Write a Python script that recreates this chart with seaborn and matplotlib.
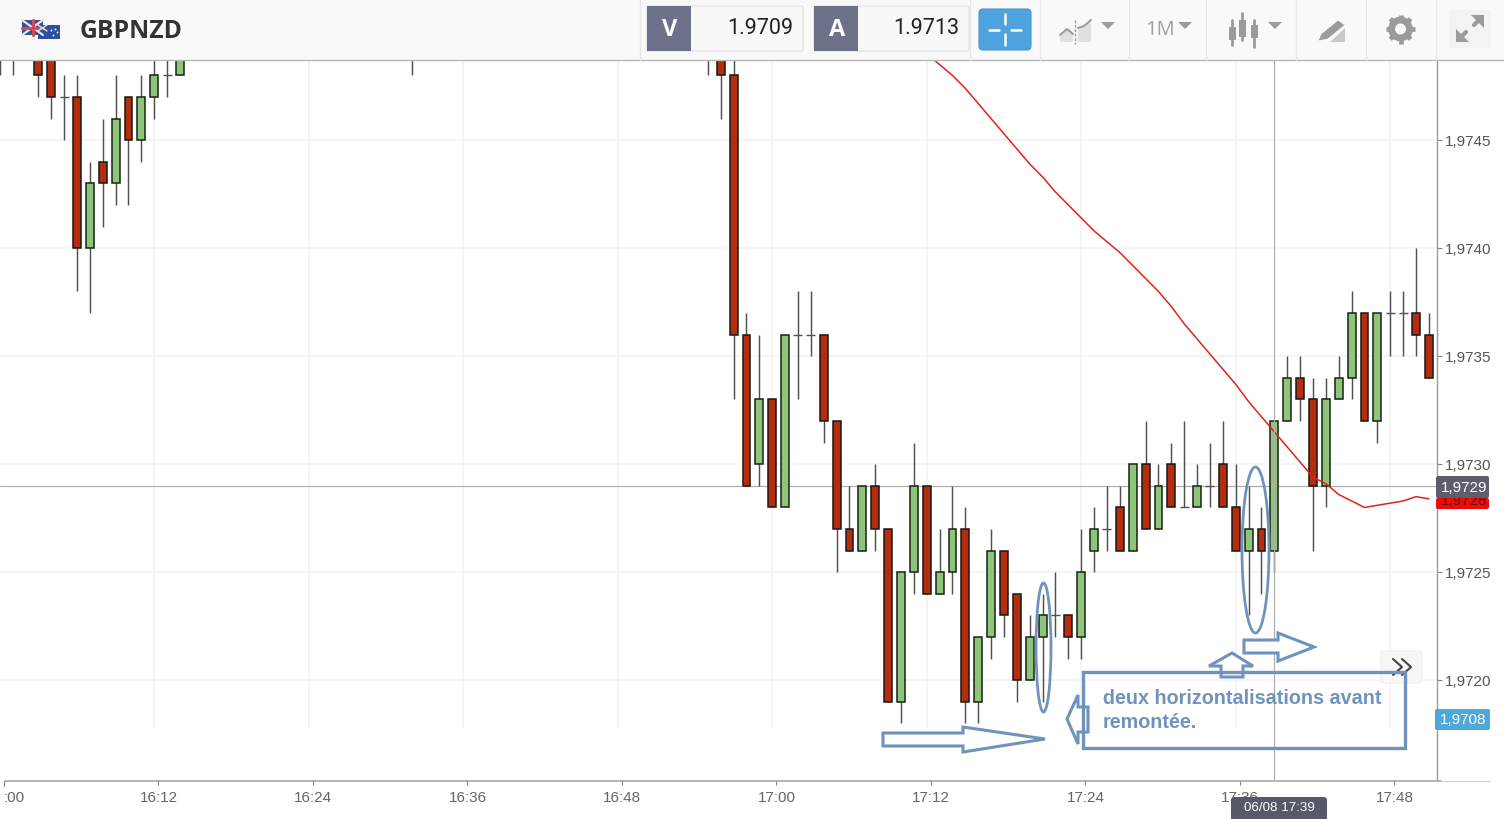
import pandas as pd
import matplotlib
matplotlib.use("Agg")
import matplotlib.pyplot as plt
from matplotlib.patches import Ellipse, FancyBboxPatch, Polygon, Rectangle, Circle
import seaborn as sns

# ================= candles, one per minute after 16:00 =================
minutes = [0, 1, 3, 4, 5, 6, 7, 8, 9, 10, 11, 12, 13, 14, 32, 55, 56, 57, 58, 59,
           60, 61, 62, 63, 64, 65, 66, 67, 68, 69, 70, 71, 72, 73, 74, 75, 76, 77, 78, 79,
           80, 81, 82, 83, 84, 85, 86, 87, 88, 89, 90, 91, 92, 93, 94, 95, 96, 97, 98, 99,
           100, 101, 102, 103, 104, 105, 106, 107, 108, 109, 110, 111]
opens = [1.9750, 1.9750, 1.9750, 1.9750, 1.9747, 1.9747, 1.9740, 1.9744, 1.9743, 1.9747,
         1.9745, 1.9747, 1.9748, 1.9748, 1.9752, 1.9750, 1.9750, 1.9748, 1.9736, 1.9730,
         1.9733, 1.9728, 1.9736, 1.9736, 1.9736, 1.9732, 1.9727, 1.9726, 1.9729, 1.9727,
         1.9719, 1.9725, 1.9729, 1.9724, 1.9725, 1.9727, 1.9719, 1.9722, 1.9726, 1.9724,
         1.9720, 1.9722, 1.9723, 1.9723, 1.9722, 1.9726, 1.9727, 1.9728, 1.9726, 1.9730,
         1.9727, 1.9730, 1.9728, 1.9728, 1.9729, 1.9730, 1.9728, 1.9726, 1.9727, 1.9726,
         1.9732, 1.9734, 1.9733, 1.9729, 1.9733, 1.9734, 1.9737, 1.9732, 1.9737, 1.9737,
         1.9737, 1.9736]
closes = [1.9749, 1.9750, 1.9748, 1.9747, 1.9747, 1.9740, 1.9743, 1.9743, 1.9746, 1.9745,
          1.9747, 1.9748, 1.9748, 1.9750, 1.9752, 1.9750, 1.9748, 1.9736, 1.9729, 1.9733,
          1.9728, 1.9736, 1.9736, 1.9736, 1.9732, 1.9727, 1.9726, 1.9729, 1.9727, 1.9719,
          1.9725, 1.9729, 1.9724, 1.9725, 1.9727, 1.9719, 1.9722, 1.9726, 1.9723, 1.9720,
          1.9722, 1.9723, 1.9723, 1.9722, 1.9725, 1.9727, 1.9727, 1.9726, 1.9730, 1.9727,
          1.9729, 1.9728, 1.9728, 1.9729, 1.9729, 1.9728, 1.9726, 1.9727, 1.9726, 1.9732,
          1.9734, 1.9733, 1.9729, 1.9733, 1.9734, 1.9737, 1.9732, 1.9737, 1.9737, 1.9737,
          1.9736, 1.9734]
highs = [1.9751, 1.9751, 1.9751, 1.9750, 1.9748, 1.9748, 1.9744, 1.9746, 1.9748, 1.9747,
         1.9748, 1.9750, 1.9750, 1.9751, 1.9753, 1.9751, 1.9751, 1.9749, 1.9737, 1.9736,
         1.9733, 1.9736, 1.9738, 1.9738, 1.9736, 1.9732, 1.9729, 1.9729, 1.9730, 1.9727,
         1.9725, 1.9731, 1.9729, 1.9727, 1.9729, 1.9728, 1.9722, 1.9727, 1.9726, 1.9724,
         1.9723, 1.9724, 1.9725, 1.9723, 1.9727, 1.9728, 1.9729, 1.9729, 1.9730, 1.9732,
         1.9730, 1.9731, 1.9732, 1.9730, 1.9731, 1.9732, 1.9730, 1.9729, 1.9728, 1.9732,
         1.9735, 1.9735, 1.9734, 1.9734, 1.9735, 1.9738, 1.9737, 1.9737, 1.9738, 1.9738,
         1.9740, 1.9737]
lows = [1.9748, 1.9748, 1.9747, 1.9746, 1.9745, 1.9738, 1.9737, 1.9741, 1.9742, 1.9742,
        1.9744, 1.9746, 1.9747, 1.9748, 1.9748, 1.9748, 1.9746, 1.9733, 1.9729, 1.9729,
        1.9728, 1.9728, 1.9733, 1.9735, 1.9731, 1.9725, 1.9726, 1.9726, 1.9726, 1.9719,
        1.9718, 1.9724, 1.9724, 1.9724, 1.9724, 1.9718, 1.9718, 1.9721, 1.9722, 1.9719,
        1.9720, 1.9719, 1.9722, 1.9721, 1.9721, 1.9725, 1.9726, 1.9726, 1.9726, 1.9727,
        1.9727, 1.9728, 1.9728, 1.9728, 1.9728, 1.9728, 1.9726, 1.9723, 1.9724, 1.9725,
        1.9732, 1.9732, 1.9726, 1.9728, 1.9733, 1.9733, 1.9732, 1.9731, 1.9735, 1.9735,
        1.9735, 1.9734]

# moving average, red line
ma_minutes = list(range(72, 112))
ma_values = [1.97490, 1.97485, 1.97480, 1.97474, 1.97467, 1.97460, 1.97453, 1.97446, 1.97439, 1.97433,
             1.97426, 1.97420, 1.97414, 1.97408, 1.97403, 1.97398, 1.97392, 1.97386, 1.97380, 1.97373,
             1.97365, 1.97358, 1.97351, 1.97344, 1.97337, 1.97329, 1.97322, 1.97315, 1.97308, 1.97301,
             1.97294, 1.97291, 1.97286, 1.97283, 1.97280, 1.97281, 1.97282, 1.97283, 1.97285, 1.97284]

price_ticks = [1.9720, 1.9725, 1.9730, 1.9735, 1.9740, 1.9745]
price_labels = ["1,9720", "1,9725", "1,9730", "1,9735", "1,9740", "1,9745"]
grid_minutes = [12, 24, 36, 48, 60, 72, 84, 96, 108]
time_labels = ["16:12", "16:24", "16:36", "16:48", "17:00", "17:12", "17:24", "17:36", "17:48"]
cross_minute = 99
cross_price = 1.9729

candles = pd.DataFrame({"minute": minutes, "open": opens, "close": closes, "high": highs, "low": lows})
bodies = candles[candles["open"] != candles["close"]]
dojis = candles[candles["open"] == candles["close"]]
up = bodies[bodies["close"] > bodies["open"]]
down = bodies[bodies["close"] < bodies["open"]]

sns.set_style("white")
plt.rcParams["font.family"] = ["Liberation Sans", "DejaVu Sans"]

W, H = 1504, 819
fig = plt.figure(figsize=(W / 100, H / 100), dpi=100, facecolor="white")
ax = fig.add_axes([0, (H - 780.3) / H, 1437 / W, (780.3 - 60.3) / H])
ax.set_xlim(0.02, 0.02 + 1437 / 12.875)
ax.set_ylim(1.971537, 1.974870)

# grid
ax.hlines(price_ticks, 0, 113, color="#f3f3f3", lw=1.1, zorder=0)
ax.vlines(grid_minutes, 1.97178, 1.974870, color="#f3f3f3", lw=1.1, zorder=0)

# crosshair
ax.axhline(cross_price, color="#adadad", lw=0.85, zorder=1)

# candles
ax.vlines(candles["minute"], candles["low"], candles["high"], color="#505050", lw=1.05, zorder=2)
ax.hlines(dojis["open"], dojis["minute"] - 0.35, dojis["minute"] + 0.35, color="#505050", lw=1.0, zorder=2)
ax.bar(down["minute"], down["close"] - down["open"], bottom=down["open"], width=0.62,
       color="#b42d0c", edgecolor="#181818", lw=1.1, zorder=3)
ax.bar(up["minute"], up["close"] - up["open"], bottom=up["open"], width=0.62,
       color="#8fc47c", edgecolor="#16240f", lw=1.1, zorder=3)

sns.lineplot(x=ma_minutes, y=ma_values, color="#e2231a", lw=1.1, ax=ax, zorder=4)
ax.axvline(cross_minute, color="#adadad", lw=0.85, zorder=5)

# axes, ticks sit a little right of the grid
for s in ["top", "left", "bottom"]:
    ax.spines[s].set_visible(False)
ax.spines["right"].set_color("#9a9a9a")
ax.spines["right"].set_linewidth(1.0)
ax.yaxis.tick_right()
ax.set_yticks(price_ticks, price_labels)
ax.set_xticks([m + 0.33 for m in grid_minutes], time_labels)
ax.tick_params(axis="y", which="both", right=True, length=3.6, width=0.8, color="#888888",
               labelcolor="#555555", labelsize=11, pad=2)
ax.tick_params(axis="x", which="both", bottom=True, length=3.6, width=0.8, color="#888888",
               labelcolor="#666666", labelsize=11, pad=4)
ax.set_xlabel("")
ax.set_ylabel("")

# overlay in pixels: toolbar, price flags, hand drawn notes
ov = fig.add_axes([0, 0, 1, 1], facecolor="none")
ov.set_xlim(0, W)
ov.set_ylim(H, 0)
ov.axis("off")

ov.add_patch(Rectangle((0, 0), W, 60, fc="#f9f9f9", ec="none"))
ov.plot([0, W], [60, 60], color="#b9b9b9", lw=1.0)
for x in [640, 969.5, 1039.5, 1129, 1206, 1296, 1366, 1436]:
    ov.plot([x, x], [0, 60], color="#e6e6e6", lw=0.9)

# flags
ov.add_patch(Rectangle((22, 20), 21, 15, fc="#3c4f8e", ec="none"))
ov.plot([22, 43], [20, 35], color="#e6e6ee", lw=1.6)
ov.plot([22, 43], [35, 20], color="#e6e6ee", lw=1.6)
ov.plot([32.5, 32.5], [20, 35], color="#d24a55", lw=2.2)
ov.plot([22, 43], [27.5, 27.5], color="#d24a55", lw=2.2)
ov.add_patch(Rectangle((38, 25), 22, 14, fc="#2c4f9e", ec="none"))
ov.plot([38, 47], [25, 31], color="#dfe3ef", lw=1.0)
ov.plot([38, 47], [31, 25], color="#dfe3ef", lw=1.0)
ov.scatter([51, 55, 53, 57], [30, 29, 35, 32], s=2, color="#e8e8f2", lw=0)
ov.text(80, 31.5, "GBPNZD", fontsize=17.8, fontweight="bold", family="Open Sans", color="#333333", va="center")

# bid and ask boxes
for x0, x1, letter, value in [(647, 803, "V", "1.9709"), (814, 969, "A", "1.9713")]:
    ov.add_patch(FancyBboxPatch((x0, 6), x1 - x0, 45, boxstyle="round,pad=0,rounding_size=2",
                                fc="#f8f8f8", ec="#e2e2e2", lw=0.9))
    ov.add_patch(Rectangle((x0, 6), 44, 45, fc="#6d7189", ec="none"))
    ov.text(x0 + 23, 29.5, letter, color="white", fontsize=17, fontweight="bold", family="Open Sans",
            ha="center", va="center")
    ov.text(x1 - 10, 29, value, color="#222222", fontsize=15.5, family="Roboto", ha="right", va="center")

# crosshair button
ov.add_patch(FancyBboxPatch((979, 9), 52, 41, boxstyle="round,pad=0,rounding_size=4", fc="#4ea3de", ec="#4a97cc", lw=0.8))
for seg in [([1005, 1005], [14, 24]), ([1005, 1005], [34, 45]), ([989, 999], [29.5, 29.5]), ([1011, 1021], [29.5, 29.5])]:
    ov.plot(seg[0], seg[1], color="white", lw=1.8)

# toolbar icons
grey = "#9b9b9b"
ov.add_patch(Polygon([(1060, 42), (1060, 34), (1067, 28), (1073, 33), (1073, 42)], fc="#e0e0e0", ec="none"))
ov.add_patch(Polygon([(1078, 42), (1078, 27), (1084, 25), (1091, 20), (1091, 42)], fc="#e0e0e0", ec="none"))
ov.plot([1060, 1067, 1073], [35, 29, 34], color=grey, lw=1.4)
ov.plot([1078, 1084, 1091], [28, 26, 20], color=grey, lw=1.4)
ov.plot([1075, 1075], [20, 44], color=grey, lw=1.0, ls=(0, (2, 1.2)))
for x_c, y_c in [(1108, 25), (1185, 25), (1275, 25)]:
    ov.add_patch(Polygon([(x_c - 7, y_c - 3), (x_c + 7, y_c - 3), (x_c, y_c + 4)], fc=grey, ec="none"))
ov.text(1145, 30, "1M", fontsize=14.5, color="#a0a0a0", family="Open Sans", va="center")
for x_c, y0, y1, y2, y3 in [(1232, 20, 27, 40, 45), (1242, 13, 20, 37, 40), (1254, 20, 25, 38, 47)]:
    ov.plot([x_c, x_c], [y0, y3], color=grey, lw=2.0)
    ov.add_patch(Rectangle((x_c - 3.5, y1), 7, y2 - y1, fc=grey, ec="none"))
# pencil and bars
ov.add_patch(Polygon([(1330, 42), (1345, 28), (1345, 42)], fc="#c8c8c8", ec="none"))
ov.add_patch(Polygon([(1318, 41), (1321, 34), (1338, 20), (1345, 25), (1328, 39)], fc=grey, ec="#f9f9f9", lw=0.6))
# gear
ov.add_patch(Circle((1400.5, 29), 9, fc="none", ec=grey, lw=4.8))
for dx, dy in [(0, 14.5), (14.5, 0), (10.2, 10.2), (10.2, -10.2)]:
    ov.plot([1400.5 - dx, 1400.5 + dx], [29 - dy, 29 + dy], color=grey, lw=3.4, solid_capstyle="butt", zorder=1)
ov.add_patch(Circle((1400.5, 29), 5.5, fc="#f9f9f9", ec="none", zorder=3))
# expand
ov.add_patch(Rectangle((1449, 10), 42, 38, fc="#f3f3f3", ec="none"))
ov.plot([1458, 1466], [40, 32], color=grey, lw=3)
ov.plot([1474, 1482], [25, 17], color=grey, lw=3)
ov.add_patch(Polygon([(1471, 15), (1484, 15), (1484, 28)], fc=grey, ec="none"))
ov.add_patch(Polygon([(1456, 29), (1456, 42), (1469, 42)], fc=grey, ec="none"))

# bottom axis line, drawn from x=5
ov.plot([5, 1441], [781, 781], color="#a2a2a2", lw=1.1)
ov.plot([1441, 1490], [781, 781], color="#bcd9ee", lw=0.9)
ov.plot([4, 4], [781, 786], color="#888888", lw=0.8)
ov.text(14.5, 797.5, ":00", fontsize=11, color="#666666", ha="center", va="center")

# price flags
ov.add_patch(FancyBboxPatch((1436, 498), 53, 11, boxstyle="round,pad=0,rounding_size=2", fc="#f00a0a", ec="none"))
ov.text(1464, 501, "1,9728", color="#6b0b0b", fontsize=11, ha="center", va="center", zorder=3)
ov.add_patch(FancyBboxPatch((1436, 476), 53, 22, boxstyle="round,pad=0,rounding_size=2", fc="#5c5e6c", ec="none", zorder=4))
ov.text(1464.5, 488, "1,9729", color="white", fontsize=11, ha="center", va="center", zorder=5)
ov.add_patch(FancyBboxPatch((1435, 709), 55, 21, boxstyle="round,pad=0,rounding_size=2", fc="#4fa9d8", ec="none"))
ov.text(1463.5, 719.5, "1,9708", color="white", fontsize=11, ha="center", va="center")
ov.add_patch(FancyBboxPatch((1231, 797), 96, 24, boxstyle="round,pad=0,rounding_size=3", fc="#565967", ec="none", zorder=6))
ov.text(1279, 808, "06/08 17:39", color="white", fontsize=9.6, ha="center", va="center", zorder=7)

# collapse button
ov.add_patch(FancyBboxPatch((1381, 651), 41, 32, boxstyle="round,pad=0,rounding_size=3", fc="#f7f7f7", ec="#efefef", lw=0.8))
ov.plot([1393, 1402, 1393], [659, 667, 675], color="#444444", lw=1.5)
ov.plot([1402, 1411, 1402], [659, 667, 675], color="#444444", lw=1.5)

# hand drawn notes
note = "#7093bd"
arrows = [
    [(883, 733), (963, 733), (963, 727), (1045, 739), (963, 752), (963, 746), (883, 746)],
    [(1067, 719), (1078, 695), (1078, 707), (1088, 707), (1088, 732), (1078, 732), (1078, 744)],
    [(1232, 653), (1253, 666), (1243, 666), (1243, 677), (1221, 677), (1221, 666), (1209, 666)],
    [(1244, 640), (1278, 640), (1278, 633), (1314, 647), (1278, 661), (1278, 653), (1244, 653)],
]
for pts in arrows:
    ov.add_patch(Polygon(pts, closed=True, fc="white", ec=note, lw=2.2, joinstyle="miter", zorder=8))
ov.add_patch(Rectangle((1083, 672), 322, 76, fc="none", ec=note, lw=2.4, zorder=9))
ov.add_patch(Ellipse((1043.5, 647.5), 15, 129, fc="none", ec=note, lw=2.0, zorder=9))
ov.add_patch(Ellipse((1255.5, 550), 27, 166, fc="none", ec=note, lw=2.0, zorder=9))
ov.text(1103, 698, "deux horizontalisations avant", color=note, fontsize=14.2, fontweight="bold", va="center", zorder=9)
ov.text(1103, 722, "remontée.", color=note, fontsize=14.2, fontweight="bold", va="center", zorder=9)

fig.savefig("out.png", dpi=100)
